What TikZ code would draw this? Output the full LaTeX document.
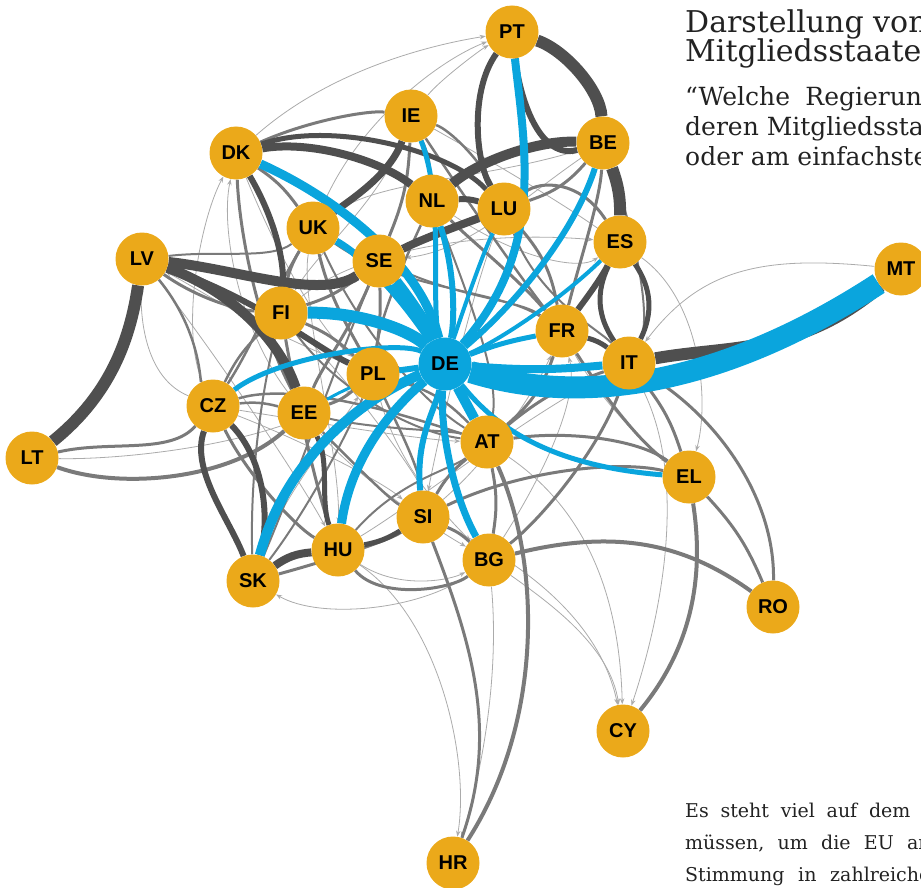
\documentclass[tikz,border=0pt]{standalone}
\usepackage{fontspec}
\setmainfont{DejaVu Serif}
\newfontfamily\lblfont{Liberation Sans}
\usetikzlibrary{arrows.meta}
\usetikzlibrary{backgrounds}

\definecolor{knoten}{HTML}{EBA91A}
\definecolor{deblau}{HTML}{0AA5DD}
\definecolor{dunkel}{HTML}{4F4F4F}
\definecolor{mittel}{HTML}{7A7A7A}
\definecolor{hell}{HTML}{ABABAB}
\definecolor{schrift}{HTML}{222222}

\tikzset{
  land/.style={circle, fill=knoten, minimum size=53pt, inner sep=0pt, text=black,
    font=\lblfont\bfseries\fontsize{20}{20}\selectfont},
  blau/.style={draw=deblau, line width=#1},
  dick/.style={draw=dunkel, line width=#1},
  grau/.style={draw=mittel, line width=#1},
  fein/.style={draw=hell, line width=0.8pt, -{Stealth[length=6pt,width=4.5pt]}},
  satz/.style={anchor=base west, inner sep=0pt, text=schrift},
}

\begin{document}
\begin{tikzpicture}[x=1pt, y=-1pt]
  \useasboundingbox (0,0) rectangle (921,888);

  % Laender
  \node[land] (PT) at (512,32)  {PT};
  \node[land] (IE) at (411,116) {IE};
  \node[land] (BE) at (603,143) {BE};
  \node[land] (DK) at (236,153) {DK};
  \node[land] (NL) at (432,201) {NL};
  \node[land] (LU) at (504,209) {LU};
  \node[land] (UK) at (313,228) {UK};
  \node[land] (ES) at (620,242) {ES};
  \node[land] (SE) at (379,261) {SE};
  \node[land] (LV) at (142,259) {LV};
  \node[land] (MT) at (901,269) {MT};
  \node[land] (FI) at (281,313) {FI};
  \node[land] (FR) at (562,331) {FR};
  \node[land, fill=deblau] (DE) at (445,364) {DE};
  \node[land] (IT) at (629,363) {IT};
  \node[land] (PL) at (373,374) {PL};
  \node[land] (CZ) at (213,406) {CZ};
  \node[land] (EE) at (304,413) {EE};
  \node[land] (AT) at (487,442) {AT};
  \node[land] (LT) at (32,458)  {LT};
  \node[land] (EL) at (689,477) {EL};
  \node[land] (SI) at (423,517) {SI};
  \node[land] (HU) at (338,550) {HU};
  \node[land] (BG) at (489,560) {BG};
  \node[land] (SK) at (253,581) {SK};
  \node[land] (RO) at (773,607) {RO};
  \node[land] (CY) at (623,731) {CY};
  \node[land] (HR) at (453,863) {HR};

  % Texte
  \node[satz, font=\fontsize{30}{30}\selectfont] (titel1) at (685,33) {Darstellung von};
  \node[satz, font=\fontsize{30}{30}\selectfont] (titel2) at (685,62) {Mitgliedsstaaten};
  \node[satz, font=\fontsize{25}{25}\selectfont] (frage1) at (685,106) {“Welche\hspace{0.3em} Regierung};
  \node[satz, font=\fontsize{25}{25}\selectfont] (frage2) at (685,136) {deren Mitgliedsstaaten};
  \node[satz, font=\fontsize{25}{25}\selectfont] (frage3) at (685,165) {oder am einfachsten};
  \node[satz, font=\fontsize{19}{19}\selectfont] (absatz1) at (685,817) {Es\hspace{0.3em} steht\hspace{0.3em} viel\hspace{0.3em} auf\hspace{0.3em} dem};
  \node[satz, font=\fontsize{19}{19}\selectfont] (absatz2) at (685,849) {müssen,\hspace{0.38em} um\hspace{0.38em} die\hspace{0.38em} EU\hspace{0.38em} an};
  \node[satz, font=\fontsize{19}{19}\selectfont] (absatz3) at (685,881) {Stimmung\hspace{0.4em} in\hspace{0.4em} zahlreichen};

  \begin{scope}[on background layer]
    % helle Linien
    \draw[fein] (DK) .. controls (330,70) and (430,45) .. (PT);
    \draw[fein] (UK) .. controls (360,120) and (440,60) .. (PT);
    \draw[fein] (IE) .. controls (440,80) and (480,50) .. (PT);
    \draw[fein] (CZ) .. controls (180,330) and (200,220) .. (DK);
    \draw[fein] (EE) .. controls (240,330) and (220,230) .. (DK);
    \draw[fein] (CZ) .. controls (150,380) and (140,330) .. (LV);
    \draw[fein] (PL) .. controls (260,330) and (200,290) .. (LV);
    \draw[fein] (BG) .. controls (560,610) and (610,650) .. (CY);
    \draw[fein] (SI) .. controls (520,560) and (600,620) .. (CY);
    \draw[fein] (AT) .. controls (600,520) and (620,620) .. (CY);
    \draw[fein] (IT) .. controls (690,480) and (660,620) .. (CY);
    \draw[fein] (BG) .. controls (500,680) and (480,780) .. (HR);
    \draw[fein] (HU) .. controls (440,620) and (470,760) .. (HR);
    \draw[fein] (BG) .. controls (420,610) and (320,620) .. (SK);
    \draw[fein] (MT) .. controls (760,255) and (700,270) .. (IT);
    \draw[fein] (ES) .. controls (700,300) and (710,400) .. (EL);
    \draw[fein] (LT) .. controls (120,460) and (280,445) .. (PL);
    \draw[fein] (IE) .. controls (560,200) and (600,230) .. (ES);
    \draw[fein] (NL) .. controls (520,260) and (580,270) .. (ES);
    \draw[fein] (HU) .. controls (400,590) and (450,580) .. (BG);
    \draw[fein] (PL) .. controls (400,470) and (450,520) .. (BG);
    \draw[fein] (UK) .. controls (300,300) and (340,450) .. (HU);
    \draw[fein] (FR) .. controls (600,400) and (650,450) .. (EL);
    \draw[fein] (FI) .. controls (350,380) and (420,480) .. (SI);
    \draw[fein] (EE) .. controls (350,470) and (420,520) .. (BG);
    \draw[fein] (LU) .. controls (470,300) and (440,430) .. (SI);
    \draw[fein] (CZ) .. controls (300,440) and (380,480) .. (SI);
    \draw[fein] (IE) .. controls (380,200) and (320,250) .. (FI);
    \draw[fein] (BE) .. controls (520,200) and (470,250) .. (SE);
    \draw[fein] (CZ) .. controls (300,420) and (420,440) .. (AT);
    \draw[fein] (LV) .. controls (220,360) and (300,480) .. (HU);
    \draw[fein] (SK) .. controls (280,500) and (330,440) .. (PL);
    \draw[fein] (DK) .. controls (280,260) and (320,330) .. (PL);
    \draw[fein] (SI) .. controls (500,450) and (540,380) .. (FR);
    \draw[fein] (BG) .. controls (540,480) and (580,400) .. (FR);
    \draw[fein] (HU) .. controls (420,500) and (520,420) .. (IT);
    \draw[fein] (UK) .. controls (380,180) and (480,180) .. (BE);
    \draw[fein] (FI) .. controls (360,250) and (480,230) .. (ES);

    % mittlere Linien
    \draw[grau=3pt] (LT) .. controls (110,440) and (170,455) .. (CZ);
    \draw[grau=4pt] (LT) .. controls (120,490) and (230,480) .. (EE);
    \draw[grau=3pt] (SI) .. controls (470,640) and (500,730) .. (HR);
    \draw[grau=4pt] (AT) .. controls (540,560) and (545,720) .. (HR);
    \draw[grau=4pt] (EL) .. controls (705,580) and (690,650) .. (CY);
    \draw[grau=4pt] (BG) .. controls (610,530) and (680,540) .. (RO);
    \draw[grau=3pt] (EL) to[bend left=10] (RO);
    \draw[grau=3pt] (IT) .. controls (720,420) and (775,500) .. (RO);
    \draw[grau=3pt] (FR) .. controls (620,420) and (650,450) .. (EL);
    \draw[grau=3pt] (AT) .. controls (570,430) and (640,440) .. (EL);
    \draw[grau=3pt] (SI) .. controls (520,470) and (620,460) .. (EL);
    \draw[grau=2pt] (LV) .. controls (220,250) and (270,260) .. (UK);
    \draw[grau=3pt] (DK) .. controls (240,240) and (260,330) .. (EE);
    \draw[grau=3pt] (UK) to[bend right=10] (FI);
    \draw[grau=3pt] (UK) .. controls (330,300) and (350,330) .. (PL);
    \draw[grau=3pt] (SE) to[bend left=10] (FI);
    \draw[grau=3pt] (SE) to[bend left=5] (PL);
    \draw[grau=3pt] (SE) .. controls (350,330) and (320,370) .. (EE);
    \draw[grau=3pt] (FI) to[bend left=10] (PL);
    \draw[grau=2.5pt] (FI) to[bend right=10] (CZ);
    \draw[grau=3pt] (FI) .. controls (300,420) and (320,500) .. (HU);
    \draw[grau=3pt] (PL) to[bend left=10] (EE);
    \draw[grau=2.5pt] (PL) .. controls (400,430) and (420,470) .. (SI);
    \draw[grau=2.5pt] (PL) to[bend left=15] (AT);
    \draw[grau=2.5pt] (EE) .. controls (350,460) and (390,500) .. (SI);
    \draw[grau=3pt] (CZ) .. controls (250,480) and (300,530) .. (HU);
    \draw[grau=3pt] (HU) .. controls (380,600) and (450,590) .. (BG);
    \draw[grau=3pt] (SI) to[bend left=10] (BG);
    \draw[grau=3pt] (AT) to[bend right=10] (SI);
    \draw[grau=3pt] (AT) to[bend left=10] (BG);
    \draw[grau=3pt] (AT) to[bend right=15] (FR);
    \draw[grau=3pt] (AT) to[bend left=10] (IT);
    \draw[grau=3pt] (FR) to[bend right=15] (LU);
    \draw[grau=3pt] (FR) .. controls (520,280) and (470,240) .. (NL);
    \draw[grau=3pt] (FR) .. controls (580,260) and (600,200) .. (BE);
    \draw[grau=2.5pt] (FR) .. controls (500,250) and (440,160) .. (IE);
    \draw[grau=3pt] (LU) to[bend right=15] (BE);
    \draw[grau=2.5pt] (LU) .. controls (480,160) and (450,130) .. (IE);
    \draw[grau=3pt] (NL) to[bend right=10] (IE);
    \draw[grau=3pt] (IT) to[bend left=10] (EL);
    \draw[grau=3pt] (IT) .. controls (600,450) and (540,520) .. (BG);
    \draw[grau=3pt] (UK) to[bend right=10] (DK);
    \draw[grau=3pt] (DK) .. controls (310,120) and (370,110) .. (IE);
    \draw[grau=3pt] (SE) to[bend right=10] (IE);
    \draw[grau=3pt] (SK) .. controls (330,560) and (390,540) .. (SI);
    \draw[grau=2.5pt] (CZ) to[bend left=10] (EE);
    \draw[grau=3pt] (LV) .. controls (200,300) and (240,310) .. (FI);
    \draw[grau=2.5pt] (LV) .. controls (200,330) and (200,380) .. (CZ);
    \draw[grau=3pt] (ES) .. controls (580,180) and (540,180) .. (LU);
    \draw[grau=2.5pt] (NL) .. controls (400,270) and (380,320) .. (PL);
    \draw[grau=2.5pt] (UK) .. controls (270,300) and (250,350) .. (CZ);
    \draw[grau=2pt] (FI) .. controls (330,380) and (400,430) .. (AT);
    \draw[grau=2pt] (UK) .. controls (360,330) and (420,400) .. (AT);
    \draw[grau=2pt] (SE) .. controls (330,380) and (300,470) .. (SK);
    \draw[grau=2.5pt] (CZ) .. controls (300,380) and (420,420) .. (AT);
    \draw[grau=2pt] (EE) .. controls (380,430) and (450,430) .. (AT);
    \draw[grau=2pt] (PL) .. controls (340,450) and (300,520) .. (SK);
    \draw[grau=2pt] (HU) .. controls (400,480) and (450,470) .. (AT);
    \draw[grau=2pt] (FI) .. controls (260,400) and (250,480) .. (SK);
    \draw[grau=2pt] (SE) .. controls (470,300) and (520,300) .. (FR);
    \draw[grau=2pt] (UK) .. controls (400,290) and (500,290) .. (FR);
    \draw[grau=2pt] (NL) .. controls (470,300) and (500,380) .. (AT);
    \draw[grau=2pt] (LU) .. controls (540,300) and (600,330) .. (IT);
    \draw[grau=2pt] (BE) .. controls (640,250) and (650,320) .. (IT);

    % dunkle Linien
    \draw[dick=12pt] (LT) .. controls (110,395) and (130,340) .. (LV);
    \draw[dick=10pt] (LV) .. controls (240,270) and (320,300) .. (SE);
    \draw[dick=10pt] (LV) .. controls (230,290) and (280,340) .. (EE);
    \draw[dick=6pt] (LV) .. controls (260,300) and (320,350) .. (PL);
    \draw[dick=8pt] (DK) .. controls (310,140) and (380,160) .. (NL);
    \draw[dick=5pt] (DK) .. controls (330,120) and (450,150) .. (LU);
    \draw[dick=6pt] (DK) .. controls (270,210) and (285,255) .. (FI);
    \draw[dick=10pt] (NL) .. controls (480,160) and (540,140) .. (BE);
    \draw[dick=12pt] (PT) .. controls (565,50) and (600,90) .. (BE);
    \draw[dick=6pt] (PT) .. controls (520,100) and (540,160) .. (BE);
    \draw[dick=6pt] (PT) .. controls (470,90) and (475,160) .. (LU);
    \draw[dick=12pt] (BE) to[bend left=10] (ES);
    \draw[dick=5pt] (ES) to[bend left=30] (IT);
    \draw[dick=5pt] (ES) to[bend right=30] (IT);
    \draw[dick=12pt] (IT) .. controls (730,345) and (800,355) .. (MT);
    \draw[dick=6pt] (CZ) .. controls (190,470) and (230,520) .. (SK);
    \draw[dick=6pt] (CZ) .. controls (265,460) and (270,520) .. (SK);
    \draw[dick=8pt] (SK) to[bend left=15] (HU);
    \draw[dick=5pt] (HU) to[bend right=10] (SI);
    \draw[dick=7pt] (IE) .. controls (390,175) and (350,200) .. (UK);
    \draw[dick=6pt] (FR) .. controls (585,300) and (600,280) .. (ES);
    \draw[dick=6pt] (NL) to[bend left=10] (LU);
    \draw[dick=8pt] (SE) .. controls (420,240) and (460,225) .. (LU);
    \draw[dick=5pt] (EE) .. controls (330,460) and (320,500) .. (HU);
    \draw[dick=5pt] (FR) to[bend left=10] (IT);

    % blaue Linien
    \draw[blau=22pt] (DE) .. controls (560,400) and (700,400) .. (MT);
    \draw[blau=8pt] (PT) .. controls (525,150) and (545,250) .. (DE);
    \draw[blau=6pt] (BE) .. controls (575,230) and (520,300) .. (DE);
    \draw[blau=4pt] (ES) .. controls (560,300) and (500,340) .. (DE);
    \draw[blau=5pt] (FR) to[bend right=5] (DE);
    \draw[blau=4pt] (LU) .. controls (480,260) and (460,320) .. (DE);
    \draw[blau=6pt] (NL) .. controls (455,270) and (455,320) .. (DE);
    \draw[blau=5pt] (IE) .. controls (445,200) and (430,300) .. (DE);
    \draw[blau=12pt] (SE) .. controls (410,300) and (430,330) .. (DE);
    \draw[blau=9pt] (DK) .. controls (330,195) and (420,260) .. (DE);
    \draw[blau=7pt] (UK) .. controls (370,260) and (410,310) .. (DE);
    \draw[blau=12pt] (FI) .. controls (360,312) and (410,330) .. (DE);
    \draw[blau=6pt] (PL) -- (DE);
    \draw[blau=5pt] (CZ) .. controls (280,355) and (400,340) .. (DE);
    \draw[blau=3pt] (EE) .. controls (360,380) and (400,370) .. (DE);
    \draw[blau=10pt] (SK) .. controls (285,460) and (360,400) .. (DE);
    \draw[blau=9pt] (HU) .. controls (350,460) and (390,410) .. (DE);
    \draw[blau=6pt] (SI) .. controls (415,440) and (435,410) .. (DE);
    \draw[blau=7pt] (BG) .. controls (450,490) and (440,420) .. (DE);
    \draw[blau=10pt] (DE) -- (AT);
    \draw[blau=5pt] (DE) .. controls (490,420) and (540,465) .. (EL);
    \draw[blau=8pt] (DE) to[bend right=5] (IT);
  \end{scope}
\end{tikzpicture}
\end{document}
